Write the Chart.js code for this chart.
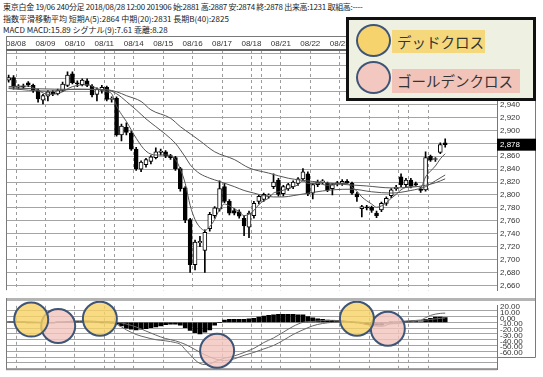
<!DOCTYPE html>
<html>
<head>
<meta charset="utf-8">
<title>東京白金 240分足</title>
<script src="https://cdn.jsdelivr.net/npm/chart.js@4.4.1/dist/chart.umd.min.js"></script>
<style>
  body { margin: 0; background: #fff; }
  #wrap { position: relative; width: 543px; height: 377px; overflow: hidden; font-family: "Noto Sans CJK JP", sans-serif; }
  #head { position: absolute; left: 3px; top: 1px; font-size: 8px; line-height: 11.6px; color: #222; white-space: nowrap; }
  #head .l1 { letter-spacing: -0.28px; }
  #mainChart { position: absolute; left: 0; top: 36px; }
  #macdChart { position: absolute; left: 0; top: 298px; }
  #legendBox { position: absolute; left: 346px; top: 17px; width: 184px; height: 78px; border: 3px solid #111; background: #eef0e1; }
  .tag { position: absolute; left: 43px; height: 23px; line-height: 23px; padding-left: 5px; font-size: 14.5px; color: #333; box-sizing: border-box; white-space: nowrap; }
  .dead { top: 10px; width: 93px; background: #f5d77c; }
  .golden { top: 49px; width: 128px; height: 24px; line-height: 24px; background: #f1c3b9; }
  .dot { position: absolute; left: 7px; width: 35px; height: 33px; border-radius: 50%; border: 2px solid #3e5578; box-sizing: border-box; }
  .yellow { top: 4px; background: #f6d36c; }
  .pink { top: 41px; background: #f2c8c1; }
</style>
</head>
<body>
<div id="wrap">
  <div id="head">
    <div class="l1">東京白金 19/06 240分足 2018/08/28 12:00 201906 始:2881 高:2887 安:2874 終:2878 出来高:1231 取組高:----</div>
    <div>指数平滑移動平均 短期A(5):2864 中期(20):2831 長期B(40):2825</div>
    <div>MACD MACD:15.89 シグナル(9):7.61 乖離:8.28</div>
  </div>
  <canvas id="mainChart" width="543" height="262"></canvas>
  <canvas id="macdChart" width="543" height="79"></canvas>
  <div id="legendBox">
    <div class="tag dead">デッドクロス</div>
    <div class="dot yellow"></div>
    <div class="tag golden">ゴールデンクロス</div>
    <div class="dot pink"></div>
  </div>
</div>
<script>
// day boundaries (bar index) and their labels on the top axis
const dayLines = [1.5, 7.5, 13.5, 19.5, 21.5, 25.5, 31.5, 37.5, 43.5, 49.5, 51.5, 55.5, 61.5, 67.5, 73.5, 79.5, 81.5, 85.5];
const dayLabels = ['08/08', '08/09', '08/10', '08/11', '', '08/14', '08/15', '08/16', '08/17', '08/18', '', '08/21', '08/22', '08/23', '08/24', '08/25', '', '08/28'];

const priceTicks = [2660, 2680, 2700, 2720, 2740, 2760, 2780, 2800, 2820, 2840, 2860, 2880, 2900, 2920, 2940, 2960, 2980, 3000, 3020];
const macdTicks = [-80, -70, -60, -50, -40, -30, -20, -10, 0, 10, 20];

// 240-minute candles
const opens = [
    2978, 2982, 2967, 2969, 2974, 2970, 2962, 2947, 2953, 2959,
    2957, 2962, 2970, 2988, 2974, 2971, 2977, 2969, 2956, 2962,
    2967, 2948, 2950, 2893, 2905, 2896, 2871, 2840, 2847, 2852,
    2858, 2866, 2867, 2861, 2858, 2841, 2811, 2762, 2692, 2726,
    2714, 2748, 2768, 2778, 2813, 2790, 2776, 2774, 2764, 2750,
    2768, 2790, 2793, 2798, 2813, 2823, 2802, 2810, 2813, 2818,
    2825, 2833, 2803, 2816, 2820, 2818, 2810, 2817, 2818, 2821,
    2818, 2802, 2779, 2781, 2781, 2772, 2777, 2787, 2799, 2810,
    2828, 2816, 2823, 2817, 2809, 2808, 2860, 2855, 2866, 2881
];
const highs = [
    2986, 2985, 2971, 2972, 2976, 2972, 2964, 2956, 2962, 2962,
    2964, 2975, 2991, 2991, 2977, 2980, 2980, 2971, 2966, 2970,
    2969, 2952, 2952, 2910, 2912, 2899, 2874, 2853, 2857, 2861,
    2873, 2871, 2869, 2863, 2860, 2843, 2813, 2764, 2730, 2736,
    2746, 2773, 2782, 2822, 2818, 2793, 2779, 2777, 2768, 2775,
    2790, 2800, 2803, 2802, 2833, 2826, 2815, 2818, 2822, 2827,
    2841, 2836, 2818, 2823, 2824, 2820, 2818, 2821, 2824, 2824,
    2820, 2804, 2784, 2784, 2783, 2775, 2789, 2797, 2810, 2815,
    2833, 2826, 2826, 2820, 2812, 2867, 2862, 2858, 2881, 2887
];
const lows = [
    2975, 2964, 2964, 2965, 2968, 2959, 2944, 2941, 2946, 2954,
    2955, 2960, 2968, 2972, 2968, 2969, 2968, 2952, 2946, 2958,
    2946, 2944, 2891, 2884, 2893, 2869, 2838, 2836, 2843, 2848,
    2856, 2862, 2858, 2855, 2838, 2806, 2757, 2680, 2684, 2720,
    2680, 2744, 2764, 2775, 2788, 2769, 2769, 2764, 2737, 2734,
    2764, 2786, 2790, 2795, 2810, 2798, 2798, 2807, 2810, 2815,
    2822, 2799, 2794, 2813, 2817, 2805, 2800, 2814, 2815, 2817,
    2801, 2790, 2766, 2777, 2773, 2765, 2774, 2784, 2796, 2807,
    2813, 2813, 2811, 2814, 2804, 2806, 2852, 2852, 2864, 2874
];
const closes = [
    2982, 2967, 2969, 2967, 2971, 2962, 2949, 2954, 2960, 2957,
    2962, 2972, 2986, 2974, 2972, 2978, 2970, 2955, 2964, 2967,
    2948, 2950, 2893, 2907, 2897, 2871, 2841, 2851, 2855, 2859,
    2867, 2868, 2860, 2858, 2841, 2810, 2761, 2692, 2727, 2728,
    2742, 2770, 2780, 2810, 2790, 2772, 2772, 2767, 2752, 2772,
    2787, 2798, 2801, 2800, 2820, 2801, 2813, 2816, 2820, 2825,
    2836, 2802, 2816, 2820, 2822, 2808, 2816, 2819, 2821, 2819,
    2803, 2797, 2782, 2780, 2776, 2768, 2787, 2795, 2808, 2812,
    2816, 2823, 2814, 2816, 2807, 2858, 2854, 2856, 2878, 2878
];

// exponential moving averages: [bar index, value]
const emaShort = [
    [0, 2968], [4, 2969], [6, 2962], [8, 2956], [10, 2957], [13, 2968], [16, 2971], [18, 2965], [20, 2960], [21, 2957],
    [22, 2938], [23, 2925], [24, 2914], [26, 2888], [28, 2868], [30, 2862], [32, 2862], [34, 2855], [35, 2840], [36, 2818],
    [37, 2784], [38, 2762], [39, 2750], [40, 2745], [41, 2751], [42, 2762], [43, 2778], [44, 2786], [45, 2783], [46, 2779],
    [47, 2774], [48, 2768], [49, 2770], [50, 2776], [51, 2785], [52, 2791], [53, 2795], [54, 2803], [55, 2805], [57, 2810],
    [59, 2816], [60, 2822], [61, 2818], [63, 2818], [65, 2815], [67, 2817], [69, 2818], [70, 2812], [71, 2806], [72, 2797],
    [73, 2791], [74, 2786], [75, 2781], [76, 2783], [77, 2788], [78, 2795], [79, 2801], [80, 2808], [81, 2812], [82, 2813],
    [83, 2814], [84, 2812], [85, 2828], [86, 2837], [87, 2845], [88, 2856], [89, 2864]
];
const emaMid = [
    [0, 2965], [8, 2961], [14, 2964], [20, 2963], [22, 2957], [24, 2945], [26, 2932], [28, 2918], [30, 2906], [32, 2894],
    [34, 2880], [35, 2870], [36, 2859], [37, 2847], [38, 2839], [39, 2833], [41, 2826], [43, 2821], [46, 2813], [48, 2807],
    [50, 2803], [52, 2799], [54, 2797], [56, 2797], [58, 2799], [62, 2804], [66, 2808], [70, 2809], [74, 2805], [78, 2803],
    [82, 2807], [85, 2813], [87, 2822], [89, 2831]
];
const emaLong = [
    [0, 2966], [10, 2964], [20, 2963], [22, 2960], [24, 2954], [27, 2945], [29, 2932], [33, 2919], [35, 2906], [37, 2895],
    [39, 2884], [42, 2867], [46, 2855], [49, 2842], [53, 2834], [57, 2826], [62, 2821], [69, 2816], [73, 2814], [78, 2811],
    [82, 2812], [85, 2815], [87, 2819], [89, 2825]
];

// MACD (12,26) and signal (9): [bar index, value]
const macdLine = [
    [0, 1], [4, 0.5], [8, -1], [12, 1], [16, 2.5], [19, 1], [21, 0], [22, -3], [24, -13], [26, -21],
    [28, -26], [30, -30], [32, -32], [34, -35], [35, -38], [36, -47], [37, -56], [38, -65], [39, -71], [40, -73],
    [41, -72], [42, -68], [43, -65], [44, -62], [45, -60], [46, -58], [48, -52], [50, -45], [52, -35], [54, -27],
    [56, -17], [58, -7], [60, 0], [62, 1.5], [64, 3], [66, 3.5], [68, 2.5], [70, 1], [71, 0], [72, -2],
    [74, -5.5], [76, -7], [78, -2], [80, 0], [82, 3], [84, 4], [85, 8], [86, 12], [88, 15.5], [89, 15.89]
];
const signalLine = [
    [0, 0.3], [4, 0.6], [8, 0], [12, -0.3], [16, 1], [19, 1.3], [21, 1.2], [22, 0.5], [24, -3], [26, -8],
    [28, -15], [30, -22], [32, -28], [34, -32], [36, -38], [38, -47], [40, -56], [42, -63], [43, -65], [44, -66],
    [45, -65], [46, -63], [48, -57], [50, -52], [52, -46], [54, -40], [56, -31], [58, -21], [60, -13], [62, -6],
    [64, -2], [66, 0], [68, 1], [70, 1], [72, 0], [74, -1.5], [76, -2.5], [78, -2.5], [80, -1.5], [82, 1],
    [84, 3], [86, 5], [88, 6.8], [89, 7.61]
];
const macdHist = [
    0.8, 0.6, 0.4, 0.2, -0.3, -0.8, -1.2, -1.2, -0.9, -0.4,
    0.3, 0.8, 1.5, 2, 2.2, 2, 1.6, 1, 0.4, -0.3,
    -0.8, -1.5, -3, -6, -10, -12, -13, -12, -11, -9,
    -8, -6, -4, -3, -3, -5, -9, -14, -18, -20,
    -17, -13, -5, 0, 4, 5, 5, 5, 5, 6,
    7, 9, 11, 12, 13, 14, 14, 14, 14, 13,
    13, 10, 8, 6, 5, 4, 3.5, 3, 2, 1,
    0, -1, -2, -4, -4, -5, -5, -1, 0.5, 1,
    1.5, 2, 2, 2, 1, 5, 7, 9, 9, 8.28
];

// crosses marked on the MACD panel
const deadCrosses = [[4.6, 4.8], [18.6, 6.3], [71.0, 6.3]];
const goldenCrosses = [[10.1, -6.3], [42.5, -49], [77.3, -11]];

const xMin = -0.54, xMax = 99.56;
const tickFont = { family: 'Liberation Sans', size: 8 };

const toPoints = arr => arr.map(p => ({ x: p[0], y: p[1] }));

const dashedX = (display) => ({
    type: 'linear',
    position: display ? 'top' : 'bottom',
    min: xMin,
    max: xMax,
    offset: false,
    afterBuildTicks: s => { s.ticks = dayLines.map(v => ({ value: v })); },
    afterFit: s => { s.height = display ? 14 : 0; },
    ticks: {
        display: display,
        autoSkip: false,
        maxRotation: 0,
        padding: 1,
        font: tickFont,
        color: '#333',
        callback: (v, i) => dayLabels[i]
    },
    grid: { color: '#9c9c9c', drawTicks: false, offset: false },
    border: { display: false, dash: [3, 3] }
});

const mainFrame = {
    id: 'mainFrame',
    afterDraw(chart) {
        const { ctx, chartArea: a, scales } = chart;
        ctx.save();
        ctx.strokeStyle = '#7a7a7a';
        ctx.lineWidth = 1;
        ctx.beginPath();
        ctx.moveTo(6, 0.5); ctx.lineTo(536, 0.5);
        ctx.moveTo(6.5, 0); ctx.lineTo(6.5, a.bottom);
        ctx.moveTo(535.5, 0); ctx.lineTo(535.5, chart.height);
        ctx.stroke();
        ctx.lineWidth = 2;
        ctx.strokeStyle = '#666';
        ctx.beginPath(); ctx.moveTo(6, a.top); ctx.lineTo(536, a.top); ctx.stroke();

        const last = closes[closes.length - 1];
        const y = scales.y.getPixelForValue(last);
        ctx.fillStyle = '#000';
        ctx.fillRect(a.right, y - 6, 536 - a.right, 12);
        ctx.fillStyle = '#fff';
        ctx.font = '8px "Liberation Sans"';
        ctx.textBaseline = 'middle';
        ctx.fillText(last.toLocaleString('en-US'), a.right + 3, y + 0.5);
        ctx.restore();
    }
};

const macdFrame = {
    id: 'macdFrame',
    afterDraw(chart) {
        const { ctx, chartArea: a } = chart;
        ctx.save();
        ctx.fillStyle = '#b4b4b4';
        ctx.fillRect(6, 0, 530, 3);
        ctx.strokeStyle = '#7a7a7a';
        ctx.lineWidth = 1;
        ctx.beginPath();
        ctx.moveTo(6.5, 0); ctx.lineTo(6.5, a.bottom);
        ctx.moveTo(6, a.bottom + 0.5); ctx.lineTo(a.right, a.bottom + 0.5);
        ctx.moveTo(535.5, 0); ctx.lineTo(535.5, 59.5);
        ctx.lineTo(a.right, 59.5);
        ctx.stroke();
        ctx.restore();
    }
};

new Chart(document.getElementById('mainChart'), {
    type: 'bar',
    data: {
        datasets: [
            { type: 'line', data: toPoints(emaShort), borderColor: '#555', borderWidth: 1, pointRadius: 0, cubicInterpolationMode: 'monotone' },
            { type: 'line', data: toPoints(emaMid), borderColor: '#555', borderWidth: 1, pointRadius: 0, cubicInterpolationMode: 'monotone' },
            { type: 'line', data: toPoints(emaLong), borderColor: '#555', borderWidth: 1, pointRadius: 0, cubicInterpolationMode: 'monotone' },
            {
                data: opens.map((o, i) => ({ x: i, y: [o, closes[i]] })),
                backgroundColor: opens.map((o, i) => closes[i] >= o ? '#fff' : '#000'),
                borderColor: '#000',
                borderWidth: 1,
                borderSkipped: false,
                barThickness: 4,
                minBarLength: 1,
                grouped: false
            },
            {
                data: lows.map((l, i) => ({ x: i, y: [l, highs[i]] })),
                backgroundColor: '#000',
                barThickness: 1,
                grouped: false
            }
        ]
    },
    options: {
        responsive: false,
        animation: false,
        devicePixelRatio: 1,
        layout: { autoPadding: false, padding: { left: 6, right: 7, top: 0, bottom: 2 } },
        plugins: { legend: { display: false }, tooltip: { enabled: false } },
        scales: {
            x: dashedX(true),
            y: {
                position: 'right',
                min: 2652.43,
                max: 3024.76,
                afterBuildTicks: s => { s.ticks = priceTicks.map(v => ({ value: v })); },
                afterFit: s => { s.width = 39; },
                ticks: { font: tickFont, color: '#333', padding: 3, autoSkip: false, callback: v => v.toLocaleString('en-US') },
                grid: { color: '#a4a4a4', drawTicks: false },
                border: { display: true, color: '#777' }
            }
        }
    },
    plugins: [mainFrame]
});

new Chart(document.getElementById('macdChart'), {
    type: 'bar',
    data: {
        datasets: [
            {
                type: 'bubble', data: toPoints(deadCrosses), radius: 17, borderWidth: 2,
                borderColor: '#3e5578', backgroundColor: 'rgba(246, 210, 100, 0.8)', clip: false
            },
            {
                type: 'bubble', data: toPoints(goldenCrosses), radius: 17, borderWidth: 2,
                borderColor: '#3e5578', backgroundColor: 'rgba(243, 196, 190, 0.8)', clip: false
            },
            { type: 'line', data: toPoints(macdLine), borderColor: '#666', borderWidth: 1, pointRadius: 0, cubicInterpolationMode: 'monotone' },
            { type: 'line', data: toPoints(signalLine), borderColor: '#666', borderWidth: 1, pointRadius: 0, cubicInterpolationMode: 'monotone' },
            {
                data: macdHist.map((v, i) => ({ x: i, y: v })),
                backgroundColor: '#000',
                barThickness: 4,
                grouped: false
            }
        ]
    },
    options: {
        responsive: false,
        animation: false,
        devicePixelRatio: 1,
        layout: { autoPadding: false, padding: { left: 6, right: 7, top: 3, bottom: 7 } },
        plugins: { legend: { display: false }, tooltip: { enabled: false } },
        scales: {
            x: dashedX(false),
            y: {
                position: 'right',
                min: -81,
                max: 28.6,
                afterBuildTicks: s => { s.ticks = macdTicks.map(v => ({ value: v })); },
                afterFit: s => { s.width = 39; },
                ticks: {
                    font: tickFont, color: '#333', padding: 3, labelOffset: -4, autoSkip: false,
                    callback: v => (v < -60 || v > 20) ? '' : v.toFixed(2)
                },
                grid: { color: '#a4a4a4', drawTicks: false },
                border: { display: true, color: '#777' }
            }
        }
    },
    plugins: [macdFrame]
});
</script>
</body>
</html>
